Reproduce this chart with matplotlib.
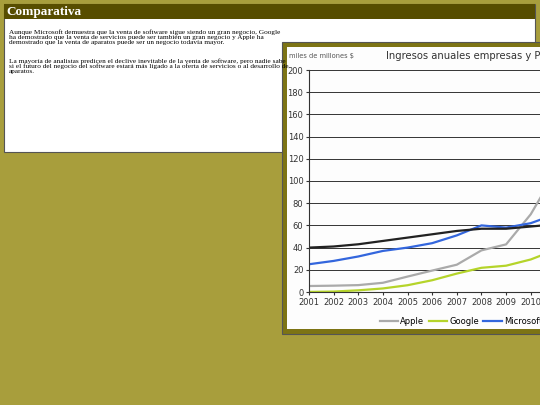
import matplotlib
matplotlib.use("Agg")
import matplotlib.pyplot as plt
from matplotlib.patches import Rectangle

years = [2001, 2002, 2003, 2004, 2005, 2006, 2007, 2008, 2009, 2010, 2011]
apple = [5.4, 5.7, 6.2, 8.3, 13.9, 19.3, 24.6, 37.5, 42.9, 70, 108]
google = [0.1, 0.4, 1.5, 3.2, 6.1, 10.6, 16.6, 21.8, 23.7, 29.3, 37.9]
microsoft = [25, 28, 32, 37, 40, 44, 51, 60, 58, 62, 70]
pib = [40, 41, 43, 46, 49, 52, 55, 57, 57, 59, 61]
series_names = ["Apple", "Google", "Microsoft", "PIB"]
colors = ["#aaaaaa", "#b5d42a", "#3366dd", "#222222"]

W, H = 540, 405
fig = plt.figure(figsize=(5.4, 4.05), dpi=100)
fig.patch.set_facecolor("#a89e3c")

def rect(x, y, w, h, fc, ec="none", lw=0, z=0):
    fig.patches.append(Rectangle((x / W, 1 - (y + h) / H), w / W, h / H,
                                 transform=fig.transFigure, fc=fc, ec=ec, lw=lw, zorder=z))

# text panel
rect(4, 4, 531, 148, "white", "#555555", 0.8)
rect(4, 4, 531, 15, "#574d00")
fig.text(6 / W, 1 - 12 / H, "Comparativa", color="white", fontsize=9.5, fontweight="bold",
         family="Liberation Serif", va="center")
p1 = ("Aunque Microsoft demuestra que la venta de software sigue siendo un gran negocio, Google\n"
      "ha demostrado que la venta de servicios puede ser también un gran negocio y Apple ha\n"
      "demostrado que la venta de aparatos puede ser un negocio todavía mayor.")
p2 = ("La mayoría de analistas predicen el declive inevitable de la venta de software, pero nadie sabe\n"
      "si el futuro del negocio del software estará más ligado a la oferta de servicios o al desarrollo de\n"
      "aparatos.")
fig.text(9 / W, 1 - 29 / H, p1, fontsize=5.2, family="Liberation Serif", va="top", linespacing=1.0)
fig.text(9 / W, 1 - 58 / H, p2, fontsize=5.2, family="Liberation Serif", va="top", linespacing=1.0)

# chart frame
rect(282, 42, 270, 292, "#7d7414", "#555555", 0.8, 1)
rect(287, 47, 260, 282, "#fdfdfd", z=1)
fig.text(289 / W, 1 - 56 / H, "miles de millones $", fontsize=4.8, color="#555555", va="center", zorder=3)
fig.text(386 / W, 1 - 56 / H, "Ingresos anuales empresas y PIB U", fontsize=7.2, color="#333333",
         va="center", zorder=3)

ax = fig.add_axes([309 / W, 1 - 292 / H, 271 / W, 222 / H])
ax.set_zorder(5)
ax.patch.set_alpha(0)
for name, vals, c in zip(series_names, [apple, google, microsoft, pib], colors):
    ax.plot(years, vals, color=c, lw=1.6, label=name)
ax.set_xlim(2001, 2012)
ax.set_ylim(0, 200)
ax.set_yticks(range(0, 201, 20))
ax.set_xticks(years)
ax.grid(axis="y", color="#333333", lw=0.7)
ax.tick_params(labelsize=6, length=2, pad=2, colors="#333333")
for s in ["top", "right"]:
    ax.spines[s].set_visible(False)
ax.spines["left"].set_color("#333333")
ax.spines["bottom"].set_color("#333333")
leg = fig.legend(loc="center left", bbox_to_anchor=(372 / W, 1 - 321 / H), ncol=4, frameon=False,
                 fontsize=6, handlelength=2.2, columnspacing=0.5, handletextpad=0.3)
leg.set_zorder(6)

fig.savefig("out.png", dpi=100, facecolor=fig.get_facecolor())
